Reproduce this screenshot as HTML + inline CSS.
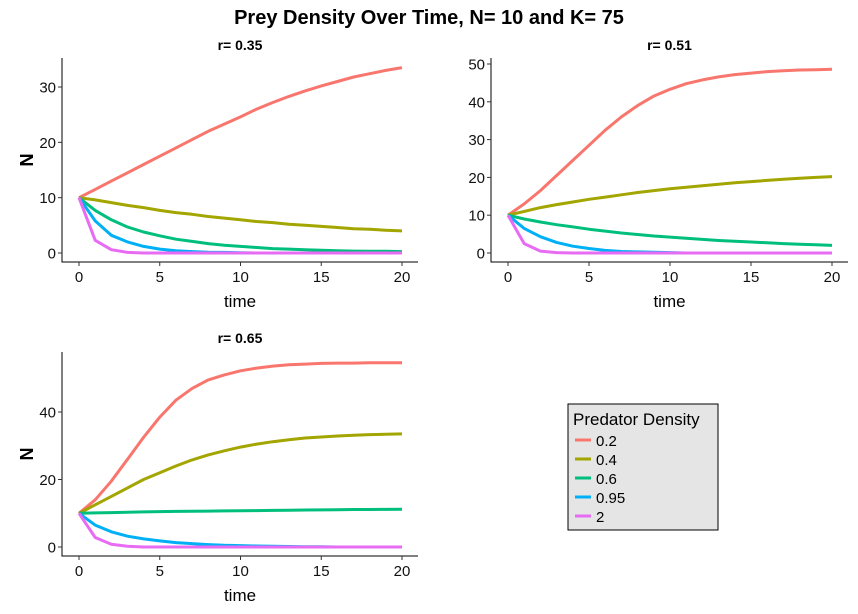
<!DOCTYPE html>
<html><head><meta charset="utf-8"><style>
body{margin:0;background:#fff}
svg{font-family:"Liberation Sans",sans-serif;display:block}
</style></head><body>
<svg id="chart" width="858" height="614">
<text x="429" y="24" text-anchor="middle" font-size="20" font-weight="bold">Prey Density Over Time, N= 10 and K= 75</text>
<g id="panels"></g>
<g>
<rect x="568" y="404" width="150" height="126" fill="#e5e5e5" stroke="#000" stroke-width="1"/>
<text x="573" y="425" font-size="17">Predator Density</text>
<g id="legend-entries"></g>
</g>
</svg>
<script>
const times=[0,1,2,3,4,5,6,7,8,9,10,11,12,13,14,15,16,17,18,19,20];
const predators=["0.2","0.4","0.6","0.95","2"];
const colors=["#F8766D","#A3A500","#00BF7D","#00B0F6","#E76BF3"];
const rTitles=["r= 0.35","r= 0.51","r= 0.65"];
const yTicks1=[0,10,20,30];
const yTicks2=[0,10,20,30,40,50];
const yTicks3=[0,20,40];
const xTicks=[0,5,10,15,20];
const p1_02=[10,11.5,13,14.5,16,17.5,19,20.5,22,23.3,24.6,26,27.2,28.3,29.3,30.2,31,31.8,32.4,33,33.5];
const p1_04=[10,9.6,9.1,8.6,8.2,7.7,7.3,7,6.6,6.3,6,5.7,5.5,5.2,5,4.8,4.6,4.4,4.3,4.1,4];
const p1_06=[10,7.7,6,4.7,3.8,3.1,2.5,2.1,1.7,1.4,1.2,1,0.8,0.7,0.6,0.5,0.4,0.35,0.3,0.3,0.25];
const p1_095=[10,5.8,3.2,2,1.2,0.7,0.4,0.25,0.15,0.1,0.05,0,0,0,0,0,0,0,0,0,0];
const p1_2=[10,2.3,0.6,0.1,0,0,0,0,0,0,0,0,0,0,0,0,0,0,0,0,0];
const p2_02=[10,13,16.5,20.5,24.5,28.5,32.5,36,39,41.5,43.3,44.8,45.8,46.6,47.2,47.6,48,48.2,48.4,48.5,48.6];
const p2_04=[10,11,12,12.8,13.5,14.2,14.8,15.4,16,16.5,17,17.4,17.8,18.2,18.6,18.9,19.2,19.5,19.8,20,20.2];
const p2_06=[10,9,8.2,7.5,6.9,6.3,5.8,5.3,4.9,4.5,4.2,3.9,3.6,3.3,3.1,2.9,2.7,2.5,2.3,2.2,2];
const p2_095=[10,6.5,4.3,2.8,1.8,1.2,0.7,0.4,0.3,0.2,0.1,0,0,0,0,0,0,0,0,0,0];
const p2_2=[10,2.5,0.5,0.1,0,0,0,0,0,0,0,0,0,0,0,0,0,0,0,0,0];
const p3_02=[10,14,19.5,26,32.5,38.5,43.5,47,49.5,51,52.2,53,53.6,54,54.2,54.4,54.5,54.5,54.6,54.6,54.6];
const p3_04=[10,12.5,15,17.5,20,22,24,25.8,27.3,28.5,29.6,30.5,31.2,31.8,32.3,32.6,32.9,33.1,33.3,33.4,33.5];
const p3_06=[10,10.1,10.2,10.3,10.4,10.5,10.55,10.6,10.65,10.7,10.75,10.8,10.85,10.9,10.95,11,11.05,11.1,11.1,11.15,11.2];
const p3_095=[10,6.5,4.5,3.2,2.4,1.8,1.3,1,0.7,0.5,0.4,0.3,0.2,0.15,0.1,0.05,0,0,0,0,0];
const p3_2=[10,2.8,0.8,0.2,0,0,0,0,0,0,0,0,0,0,0,0,0,0,0,0,0];

const NS="http://www.w3.org/2000/svg";
function mk(tag,attrs,parent){const e=document.createElementNS(NS,tag);for(const k in attrs)e.setAttribute(k,attrs[k]);parent.appendChild(e);return e;}
const panelDefs=[
 {title:rTitles[0],series:[p1_02,p1_04,p1_06,p1_095,p1_2],yTicks:yTicks1,axL:62,axR:418,axT:58,axB:262,x0:79,x20:402,y0:253,yMax:30,yMaxPx:87,titleY:50},
 {title:rTitles[1],series:[p2_02,p2_04,p2_06,p2_095,p2_2],yTicks:yTicks2,axL:491,axR:848,axT:58,axB:262,x0:508,x20:832,y0:253,yMax:50,yMaxPx:64,titleY:50},
 {title:rTitles[2],series:[p3_02,p3_04,p3_06,p3_095,p3_2],yTicks:yTicks3,axL:62,axR:418,axT:352,axB:556,x0:79,x20:402,y0:547,yMax:40,yMaxPx:412,titleY:343}
];
const root=document.getElementById('panels');
panelDefs.forEach((p,pi)=>{
 const g=mk('g',{},root);
 
 
 const xs=t=>p.x0+(p.x20-p.x0)*t/20;
 const ys=v=>p.y0-(p.y0-p.yMaxPx)*v/p.yMax;
 const cx=(p.axL+p.axR)/2;
 const tt=mk('text',{x:cx,y:p.titleY,'text-anchor':'middle','font-size':14,'font-weight':'bold'},g);tt.textContent=p.title;
 
 
 const ax=mk('path',{d:`M${p.axL} ${p.axT}V${p.axB}H${p.axR}`,fill:'none',stroke:'#000','stroke-width':1},g);
 
 
 p.yTicks.forEach(v=>{const y=ys(v);mk('line',{x1:p.axL-4,x2:p.axL,y1:y,y2:y,stroke:'#333'},g);
  const t=mk('text',{x:p.axL-6,y:y+5.5,'text-anchor':'end','font-size':15,fill:'#111'},g);t.textContent=v;
  
  });
 xTicks.forEach(v=>{const x=xs(v);mk('line',{x1:x,x2:x,y1:p.axB,y2:p.axB+4,stroke:'#333'},g);
  const t=mk('text',{x:x,y:p.axB+20,'text-anchor':'middle','font-size':15,fill:'#111'},g);t.textContent=v;
  
  });
 const xt=mk('text',{x:cx,y:p.axB+45,'text-anchor':'middle','font-size':17},g);xt.textContent='time';
 
 
 const ymid=(p.axT+p.axB)/2;
 const yt=mk('text',{x:27,y:ymid,'text-anchor':'middle','font-size':18,'font-weight':'bold',transform:`rotate(-90 ${27} ${ymid})`,dy:6},g);yt.textContent='N';
 
 
 p.series.forEach((s,si)=>{
  const d=s.map((v,i)=>(i?'L':'M')+xs(times[i]).toFixed(1)+' '+ys(v).toFixed(1)).join('');
  const l=mk('path',{d:d,fill:'none',stroke:colors[si],'stroke-width':3,'stroke-linejoin':'round'},g);
  
  
 });
});
const le=document.getElementById('legend-entries');
predators.forEach((pr,i)=>{
 const y=440+i*19;
 const g=mk('g',{},le);
 
 
 mk('line',{x1:575,x2:591,y1:y,y2:y,stroke:colors[i],'stroke-width':3},g);
 const t=mk('text',{x:596,y:y+6,'font-size':15},g);t.textContent=pr;
});
</script>
</body></html>
